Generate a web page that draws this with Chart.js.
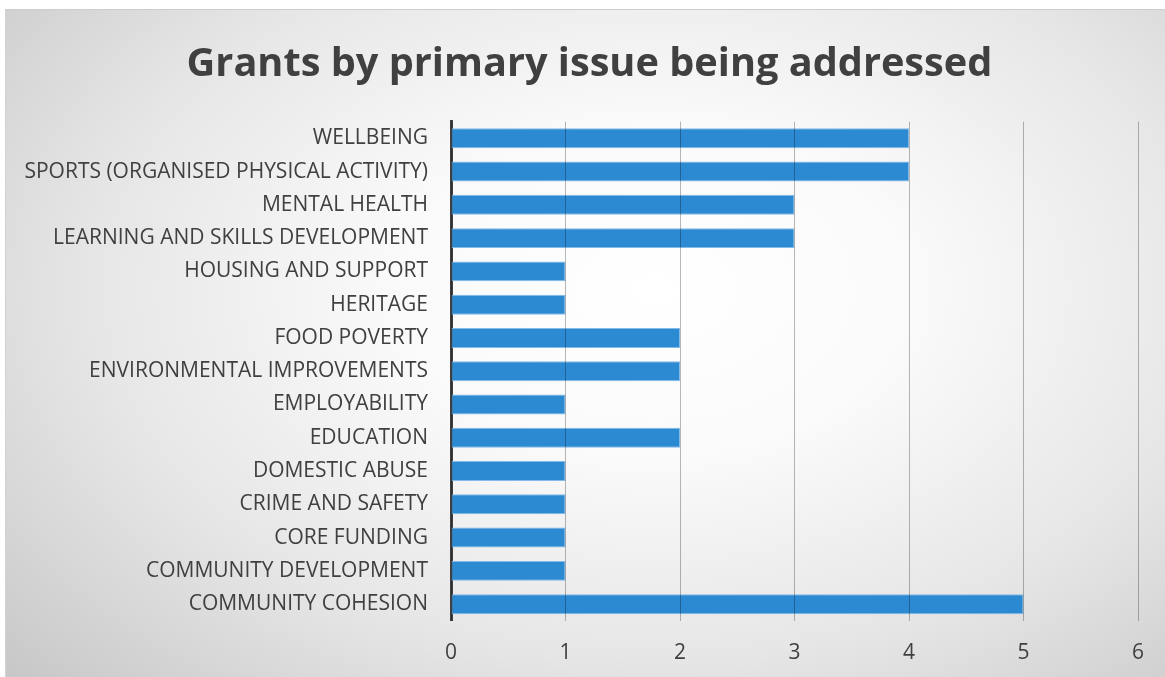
<!DOCTYPE html>
<html>
<head>
<meta charset="utf-8">
<script src="https://cdn.jsdelivr.net/npm/chart.js@4"></script>
<style>
  html, body { margin: 0; padding: 0; background: #ffffff; }
  #frame {
    position: absolute; left: 5px; top: 9px; width: 1160px; height: 668px;
    background: radial-gradient(ellipse 75% 85% at 56% 42%, #ffffff 0%, #fafafa 30%, #e6e6e6 65%, #c8c8c8 100%);
    border-top: 1px solid #cdcdcd; border-left: 1px solid #d2d2d2;
    box-sizing: border-box;
  }
</style>
</head>
<body>
<div id="frame"><canvas id="issuesChart" width="1159" height="667"></canvas></div>
<script>
// Issues, top to bottom
const issues = [
    "WELLBEING",
    "SPORTS (ORGANISED PHYSICAL ACTIVITY)",
    "MENTAL HEALTH",
    "LEARNING AND SKILLS DEVELOPMENT",
    "HOUSING AND SUPPORT",
    "HERITAGE",
    "FOOD POVERTY",
    "ENVIRONMENTAL IMPROVEMENTS",
    "EMPLOYABILITY",
    "EDUCATION",
    "DOMESTIC ABUSE",
    "CRIME AND SAFETY",
    "CORE FUNDING",
    "COMMUNITY DEVELOPMENT",
    "COMMUNITY COHESION"
];

// Number of grants per issue
const grantCounts = [4, 4, 3, 3, 1, 1, 2, 2, 1, 2, 1, 1, 1, 1, 5];

// Axis range
const xMin = 0;
const xMax = 6;
const xStep = 1;

const textColor = '#404040';
const fontFamily = "'Open Sans', 'Liberation Sans', sans-serif";

// nudge the title box so the heading sits a little right of the canvas centre
const titleShift = {
    id: 'titleShift',
    afterLayout(chart) {
        if (chart.titleBlock) {
            chart.titleBlock.left += 30;
        }
    }
};

const ctx = document.getElementById('issuesChart').getContext('2d');
new Chart(ctx, {
    type: 'bar',
    data: {
        labels: issues,
        datasets: [{
            label: 'Grants',
            data: grantCounts,
            backgroundColor: 'rgba(36, 134, 208, 0.97)',
            borderColor: 'rgba(120, 180, 232, 0.9)',
            borderWidth: 1,
            borderSkipped: false,
            barPercentage: 0.6,
            categoryPercentage: 1.0
        }]
    },
    options: {
        indexAxis: 'y',
        responsive: false,
        animation: false,
        layout: {
            padding: { top: 31, left: 5, right: 27, bottom: -9 }
        },
        plugins: {
            legend: { display: false },
            tooltip: { enabled: false },
            title: {
                display: true,
                text: 'Grants by primary issue being addressed',
                color: textColor,
                font: { family: fontFamily, size: 39.7, weight: 'bold' },
                padding: { top: 0, bottom: 33 }
            }
        },
        scales: {
            x: {
                min: xMin,
                max: xMax,
                ticks: {
                    stepSize: xStep,
                    color: textColor,
                    padding: 20,
                    font: { family: fontFamily, size: 21 }
                },
                grid: {
                    color: 'rgba(0, 0, 0, 0.28)',
                    lineWidth: 1,
                    drawTicks: false,
                    z: 1
                },
                border: { display: false }
            },
            y: {
                ticks: {
                    color: textColor,
                    padding: 23,
                    font: { family: fontFamily, size: 21 }
                },
                grid: { display: false, drawTicks: false },
                border: { display: true, color: '#404040', width: 3 },
                afterFit: function (scale) {
                    // fixed label column width
                    scale.width = 440;
                }
            }
        }
    },
    plugins: [titleShift]
});
</script>
</body>
</html>
